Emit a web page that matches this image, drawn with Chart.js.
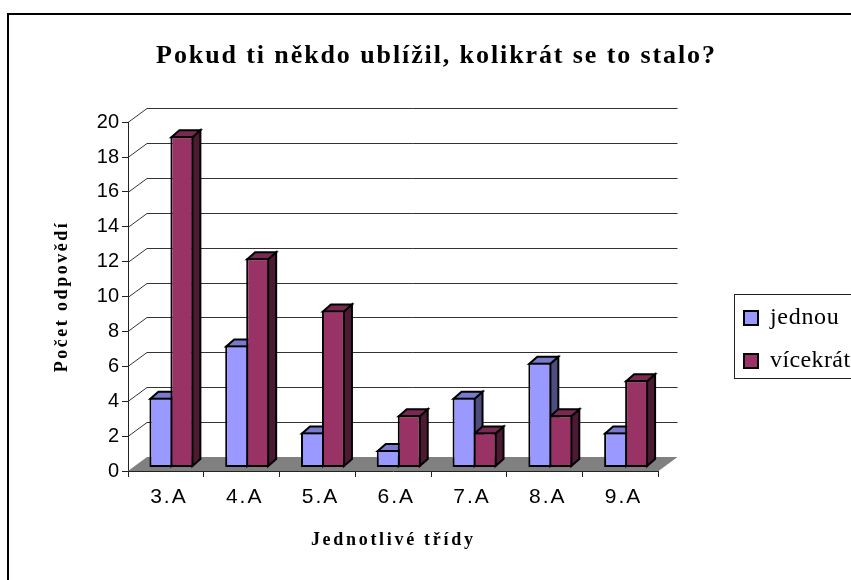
<!DOCTYPE html>
<html>
<head>
<meta charset="utf-8">
<title>Pokud ti někdo ublížil</title>
<script src="https://cdn.jsdelivr.net/npm/chart.js@4"></script>
<style>
  html, body { margin: 0; padding: 0; background: #fff; overflow: hidden; }
  canvas { display: block; }
</style>
</head>
<body>
<canvas id="myChart" width="851" height="580"></canvas>
<script>
const categories = ['3.A', '4.A', '5.A', '6.A', '7.A', '8.A', '9.A'];
const jednou = [4, 7, 2, 1, 4, 6, 2];
const vicekrat = [19, 12, 9, 3, 2, 3, 5];
const seriesNames = ['jednou', 'vícekrát'];
const chartTitle = 'Pokud ti někdo ublížil, kolikrát se to stalo?';
const xTitle = 'Jednotlivé třídy';
const yTitle = 'Počet odpovědí';

// depth of the fake 3D
const wallDx = 19, wallDy = 14;   // floor and back wall
const barDx = 8, barDy = 7;       // side of a bar
const shiftX = 5.5, shiftY = -3.5; // bars stand a bit inside the floor

const faces = [
  { front: '#9999FF', top: '#7A7ACC', side: '#4D4D80' },
  { front: '#993366', top: '#7A2952', side: '#4D1A33' }
];

// canvas text has no option for this in Chart.js, the original has wide letters
const letterSpacing = {
  [chartTitle]: '1.9px',
  [xTitle]: '2.7px',
  [yTitle]: '2.5px',
  [seriesNames[0]]: '0.7px',
  [seriesNames[1]]: '0.4px'
};
categories.forEach(c => { letterSpacing[c] = '2px'; });

function poly(ctx, pts, fill) {
  ctx.beginPath();
  pts.forEach((p, i) => i ? ctx.lineTo(p[0], p[1]) : ctx.moveTo(p[0], p[1]));
  ctx.closePath();
  ctx.fillStyle = fill;
  ctx.fill();
  ctx.strokeStyle = '#000';
  ctx.lineWidth = 2;
  ctx.stroke();
}

const look3d = {
  id: 'look3d',
  beforeDraw(chart) {
    const ctx = chart.ctx;
    if (!ctx.patched) {
      const fillText = ctx.fillText.bind(ctx);
      ctx.fillText = function(text, x, y, w) {
        ctx.letterSpacing = letterSpacing[text] || '0px';
        fillText(text, x, y, w);
        ctx.letterSpacing = '0px';
      };
      ctx.patched = true;
    }
    // outer frame runs off the picture on the right and at the bottom
    ctx.save();
    ctx.strokeStyle = '#000';
    ctx.lineWidth = 2;
    ctx.strokeRect(8, 14, 900, 700);
    // legend frame
    ctx.lineWidth = 1;
    ctx.strokeStyle = '#222';
    ctx.strokeRect(734.5, 294.5, 200, 84);
    ctx.restore();
  },
  afterLayout(chart) {
    const lg = chart.legend;
    lg.left = 725;
    lg.top = 287;
    lg.right = 900;
    lg.bottom = 400;
    // title is centred on the whole frame, not on the plot
    chart.titleBlock.right = 873;
  },
  beforeDatasetsDraw(chart) {
    const ctx = chart.ctx, a = chart.chartArea, y = chart.scales.y;
    ctx.save();
    // gridlines on the back wall with their slanted part
    ctx.strokeStyle = '#333';
    ctx.lineWidth = 1;
    y.ticks.forEach(t => {
      if (t.value === 0) return;
      const py = Math.round(y.getPixelForValue(t.value)) + 0.5;
      ctx.beginPath();
      ctx.moveTo(a.left, py);
      ctx.lineTo(a.left + wallDx, py - wallDy);
      ctx.lineTo(a.right + wallDx, py - wallDy);
      ctx.stroke();
    });
    // floor
    ctx.beginPath();
    ctx.moveTo(a.left, a.bottom);
    ctx.lineTo(a.right, a.bottom);
    ctx.lineTo(a.right + wallDx, a.bottom - wallDy);
    ctx.lineTo(a.left + wallDx, a.bottom - wallDy);
    ctx.closePath();
    ctx.fillStyle = '#808080';
    ctx.fill();
    ctx.restore();
    ctx.save();
    ctx.translate(shiftX, shiftY);
    // sides and tops first, the library then draws the front faces over them
    [0, 1].forEach(i => {
      const f = faces[i];
      chart.getDatasetMeta(i).data.forEach(bar => {
        const l = bar.x - bar.width / 2, r = bar.x + bar.width / 2;
        poly(ctx, [[r - 1, bar.y + 1], [r - 1 + barDx, bar.y + 1 - barDy], [r - 1 + barDx, bar.base - 1 - barDy], [r - 1, bar.base - 1]], f.side);
        poly(ctx, [[l + 1, bar.y + 1], [l + 1 + barDx, bar.y + 1 - barDy], [r - 1 + barDx, bar.y + 1 - barDy], [r - 1, bar.y + 1]], f.top);
      });
    });
  },
  afterDatasetsDraw(chart) {
    chart.ctx.restore();
  }
};

const ctx = document.getElementById('myChart').getContext('2d');
const barChart = new Chart(ctx, {
  type: 'bar',
  data: {
    labels: categories,
    datasets: [{
      label: seriesNames[0],
      data: jednou,
      backgroundColor: faces[0].front,
      borderColor: '#000',
      borderWidth: 2,
      borderSkipped: false,
      clip: false,
      barPercentage: 1.095,
      categoryPercentage: 0.554
    }, {
      label: seriesNames[1],
      data: vicekrat,
      backgroundColor: faces[1].front,
      borderColor: '#000',
      borderWidth: 2,
      borderSkipped: false,
      clip: false,
      barPercentage: 1.095,
      categoryPercentage: 0.554
    }]
  },
  options: {
    responsive: false,
    animation: false,
    layout: { padding: { left: 0, right: 192.5, top: 0, bottom: 0 } },
    plugins: {
      title: {
        display: true,
        text: chartTitle,
        color: '#000',
        font: { family: 'Liberation Serif', size: 26, weight: 'bold', lineHeight: 1.2 },
        padding: { top: 41, bottom: 50 }
      },
      legend: {
        position: 'chartArea',
        align: 'start',
        labels: {
          color: '#000',
          font: { family: 'Liberation Serif', size: 24 },
          boxWidth: 14,
          boxHeight: 14,
          padding: 19
        }
      },
      tooltip: { enabled: false }
    },
    scales: {
      x: {
        afterFit(scale) { scale.height = 109; },
        grid: { drawOnChartArea: false, color: '#222', tickLength: 6 },
        border: { color: '#222' },
        ticks: { color: '#000', font: { family: 'Liberation Sans', size: 21 }, padding: 8, maxRotation: 0, labelOffset: 3 },
        title: {
          display: true,
          text: xTitle,
          color: '#000',
          font: { family: 'Liberation Serif', size: 18, weight: 'bold' },
          padding: { top: 18, bottom: 29 }
        }
      },
      y: {
        min: 0,
        max: 20,
        afterFit(scale) { scale.width = 128; },
        grid: { drawOnChartArea: false, color: '#222', tickLength: 6 },
        border: { color: '#222' },
        ticks: { color: '#000', stepSize: 2, font: { family: 'Liberation Sans', size: 20 }, padding: 3 },
        title: {
          display: true,
          text: yTitle,
          color: '#000',
          font: { family: 'Liberation Serif', size: 18, weight: 'bold' },
          padding: { top: 52, bottom: 0 }
        }
      }
    }
  },
  plugins: [look3d]
});
</script>
</body>
</html>
